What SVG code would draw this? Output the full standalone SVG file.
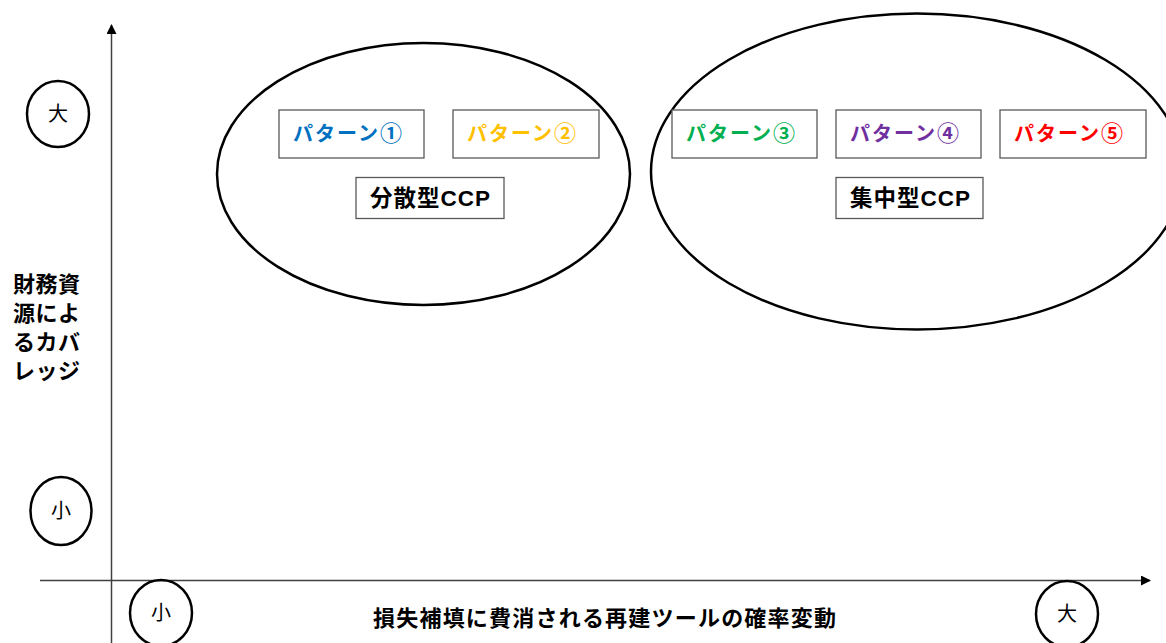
<svg xmlns="http://www.w3.org/2000/svg" width="1166" height="643" viewBox="0 0 1166 643">
<style>
text{font-family:"Noto Sans CJK JP","Liberation Sans",sans-serif;}
.lat{font-family:"Liberation Sans",Arial,sans-serif;}
.box{fill:#fff;stroke:#595959;stroke-width:1.3;}
.pat{font-size:20px;font-weight:bold;}
.num{font-size:22px;}
.grp{font-size:22.5px;font-weight:bold;fill:#000;}
.ring{fill:none;stroke:#000;stroke-width:2.5;}
.mk{font-size:20px;fill:#000;text-anchor:middle;}
.ax{stroke:#404040;stroke-width:1.5;fill:none;}
.lab{font-size:22px;font-weight:bold;fill:#000;}
</style>
<defs>
<marker id="arr" markerWidth="10" markerHeight="10" refX="9" refY="5" orient="auto" markerUnits="userSpaceOnUse">
<path d="M0,0 L10,5 L0,10 Z" fill="#000"/>
</marker>
</defs>
<rect width="1166" height="643" fill="#fff"/>
<g id="connectors">
<line class="ax" x1="111.5" y1="643" x2="111.5" y2="25" marker-end="url(#arr)"/>
<line class="ax" x1="40" y1="580.5" x2="1150" y2="580.5" marker-end="url(#arr)"/>
</g>
<g id="cluster-decentral"><ellipse class="ring" cx="423.5" cy="174" rx="206.5" ry="131"/></g>
<g id="cluster-central"><ellipse class="ring" cx="917" cy="171.5" rx="266" ry="158"/></g>
<g id="p1"><rect class="box" x="279" y="110" width="145" height="48"/><text class="pat" x="293" y="141" fill="#0070C0" textLength="109" lengthAdjust="spacing">パターン<tspan class="num">①</tspan></text></g>
<g id="p2"><rect class="box" x="453" y="110" width="146" height="48"/><text class="pat" x="467" y="141" fill="#FFC000" textLength="109" lengthAdjust="spacing">パターン<tspan class="num">②</tspan></text></g>
<g id="p3"><rect class="box" x="672" y="110" width="145" height="48"/><text class="pat" x="686" y="141" fill="#00B050" textLength="109" lengthAdjust="spacing">パターン<tspan class="num">③</tspan></text></g>
<g id="p4"><rect class="box" x="836" y="110" width="145" height="48"/><text class="pat" x="850" y="141" fill="#7030A0" textLength="109" lengthAdjust="spacing">パターン<tspan class="num">④</tspan></text></g>
<g id="p5"><rect class="box" x="1000" y="110" width="146" height="48"/><text class="pat" x="1014" y="141" fill="#FF0000" textLength="109" lengthAdjust="spacing">パターン<tspan class="num">⑤</tspan></text></g>
<g id="g1"><rect class="box" x="356" y="177.5" width="148" height="41"/><text class="grp" x="370" y="206" textLength="120" lengthAdjust="spacing">分散型<tspan class="lat">CCP</tspan></text></g>
<g id="g2"><rect class="box" x="836" y="177.5" width="147" height="41"/><text class="grp" x="850" y="206" textLength="120" lengthAdjust="spacing">集中型<tspan class="lat">CCP</tspan></text></g>
<g id="y-high"><ellipse class="ring" cx="58" cy="114" rx="31" ry="33"/><text class="mk" x="58" y="121">大</text></g>
<g id="y-low"><ellipse class="ring" cx="61" cy="511" rx="30.5" ry="34"/><text class="mk" x="61" y="518">小</text></g>
<g id="x-low"><ellipse class="ring" cx="161" cy="613" rx="31" ry="33"/><text class="mk" x="161" y="620">小</text></g>
<g id="x-high"><ellipse class="ring" cx="1067" cy="614" rx="31" ry="33"/><text class="mk" x="1067" y="621">大</text></g>
<g id="y-label">
<text class="lab" x="13" y="292" textLength="67" lengthAdjust="spacing">財務資</text>
<text class="lab" x="13" y="321" textLength="67" lengthAdjust="spacing">源によ</text>
<text class="lab" x="13" y="350" textLength="67" lengthAdjust="spacing">るカバ</text>
<text class="lab" x="13" y="379" textLength="67" lengthAdjust="spacing">レッジ</text>
</g>
<g id="x-label"><text class="lab" x="373" y="626" textLength="463" lengthAdjust="spacing">損失補填に費消される再建ツールの確率変動</text></g>
</svg>
